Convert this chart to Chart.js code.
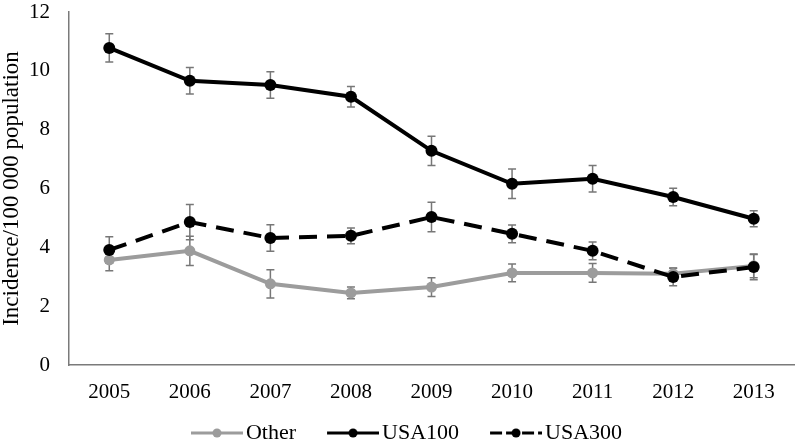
<!DOCTYPE html>
<html>
<head>
<meta charset="utf-8">
<script src="https://cdn.jsdelivr.net/npm/chart.js@4/dist/chart.umd.min.js"></script>
<style>
  html, body { margin: 0; background: #fff; }
</style>
</head>
<body>
<canvas id="chart" width="800" height="442"></canvas>
<script>
// values (mean and +/- error)
const years = ['2005', '2006', '2007', '2008', '2009', '2010', '2011', '2012', '2013'];
const other = [3.57, 3.88, 2.76, 2.45, 2.65, 3.13, 3.13, 3.10, 3.37];
const otherErr = [0.37, 0.50, 0.48, 0.20, 0.32, 0.30, 0.32, 0.20, 0.40];
const usa100 = [10.78, 9.66, 9.52, 9.12, 7.28, 6.16, 6.33, 5.71, 4.97];
const usa100Err = [0.48, 0.45, 0.45, 0.35, 0.50, 0.50, 0.45, 0.30, 0.27];
const usa300 = [3.91, 4.86, 4.32, 4.39, 5.03, 4.46, 3.88, 2.99, 3.33];
const usa300Err = [0.45, 0.60, 0.45, 0.27, 0.50, 0.30, 0.30, 0.30, 0.43];
const yTicks = [0, 2, 4, 6, 8, 10, 12];

const font = 'Liberation Serif, Times New Roman, serif';
const grey = '#9c9c9c';

// legend swatch: line with a dot in the middle.
// the legend box is 59 wide, the line only fills the right 52px of it
// so there is some air between the items (legend padding has to stay small)
const GAP = 15;
function swatch(color, dash) {
    const c = document.createElement('canvas');
    c.width = 60 + GAP;
    c.height = 14;
    const g = c.getContext('2d');
    g.strokeStyle = color;
    g.fillStyle = color;
    g.lineWidth = 3;
    g.setLineDash(dash);
    g.beginPath();
    g.moveTo(8 + GAP, 7);
    g.lineTo(60 + GAP, 7);
    g.stroke();
    g.beginPath();
    g.arc(34 + GAP, 7, 4.5, 0, Math.PI * 2);
    g.fill();
    return c;
}

// gray whiskers drawn from the y scale
const errorBars = {
    id: 'errorBars',
    beforeDatasetsDraw(chart) {
        const ctx = chart.ctx;
        const y = chart.scales.y;
        ctx.save();
        ctx.strokeStyle = '#777';
        ctx.lineWidth = 1.5;
        chart.data.datasets.forEach((ds, i) => {
            const meta = chart.getDatasetMeta(i);
            meta.data.forEach((pt, j) => {
                const v = ds.data[j];
                const e = ds.errors[j];
                const top = y.getPixelForValue(v + e);
                const bot = y.getPixelForValue(v - e);
                ctx.beginPath();
                ctx.moveTo(pt.x, top);
                ctx.lineTo(pt.x, bot);
                ctx.moveTo(pt.x - 4, top);
                ctx.lineTo(pt.x + 4, top);
                ctx.moveTo(pt.x - 4, bot);
                ctx.lineTo(pt.x + 4, bot);
                ctx.stroke();
            });
        });
        ctx.restore();
    }
};

const legendItems = [
    { text: 'Other', pointStyle: swatch(grey, []) },
    { text: 'USA100', pointStyle: swatch('#000', []) },
    { text: 'USA300', pointStyle: swatch('#000', [12, 4]) }
];

new Chart(document.getElementById('chart'), {
    type: 'line',
    data: {
        labels: years,
        datasets: [
            {
                label: 'Other', data: other, errors: otherErr, order: 3,
                borderColor: grey, backgroundColor: grey, borderWidth: 4,
                pointRadius: 5.5, pointBackgroundColor: grey, pointBorderWidth: 0
            },
            {
                label: 'USA100', data: usa100, errors: usa100Err, order: 2,
                borderColor: '#000', backgroundColor: '#000', borderWidth: 4,
                pointRadius: 6, pointBackgroundColor: '#000', pointBorderWidth: 0
            },
            {
                label: 'USA300', data: usa300, errors: usa300Err, order: 1,
                borderColor: '#000', backgroundColor: '#000', borderWidth: 4,
                borderDash: [18, 10],
                pointRadius: 6, pointBackgroundColor: '#000', pointBorderWidth: 0
            }
        ]
    },
    options: {
        responsive: false,
        animation: false,
        layout: { padding: { top: 12, right: 2, left: 0, bottom: 0 } },
        scales: {
            x: {
                offset: true,
                grid: { display: false, drawTicks: false },
                border: { display: true, color: '#7a7a7a', width: 1.5 },
                ticks: { color: '#000', font: { family: font, size: 21 }, padding: 15, maxRotation: 0 },
                afterFit(scale) { scale.height = 41; }
            },
            y: {
                min: 0,
                max: 12,
                grid: { display: false, drawTicks: false },
                border: { display: true, color: '#7a7a7a', width: 1.5 },
                afterBuildTicks(scale) { scale.ticks = yTicks.map(v => ({ value: v })); },
                ticks: { color: '#000', font: { family: font, size: 21 }, padding: 19 },
                title: {
                    display: true,
                    text: 'Incidence/100 000 population',
                    color: '#000',
                    font: { family: font, size: 23, lineHeight: 1 },
                    padding: 0
                },
                afterFit(scale) {
                    scale.width = 69;
                    scale.paddingTop = 0;
                    scale.paddingBottom = 0;
                }
            }
        },
        plugins: {
            tooltip: { enabled: false },
            legend: {
                position: 'bottom',
                maxHeight: 36,
                labels: {
                    usePointStyle: true,
                    pointStyleWidth: 44 + GAP,
                    padding: 16,
                    color: '#000',
                    font: { family: font, size: 22 },
                    generateLabels: () => legendItems.map(it => ({
                        text: it.text, pointStyle: it.pointStyle, fontColor: '#000',
                        lineWidth: 0, hidden: false
                    }))
                }
            }
        }
    },
    plugins: [errorBars]
});
</script>
</body>
</html>
